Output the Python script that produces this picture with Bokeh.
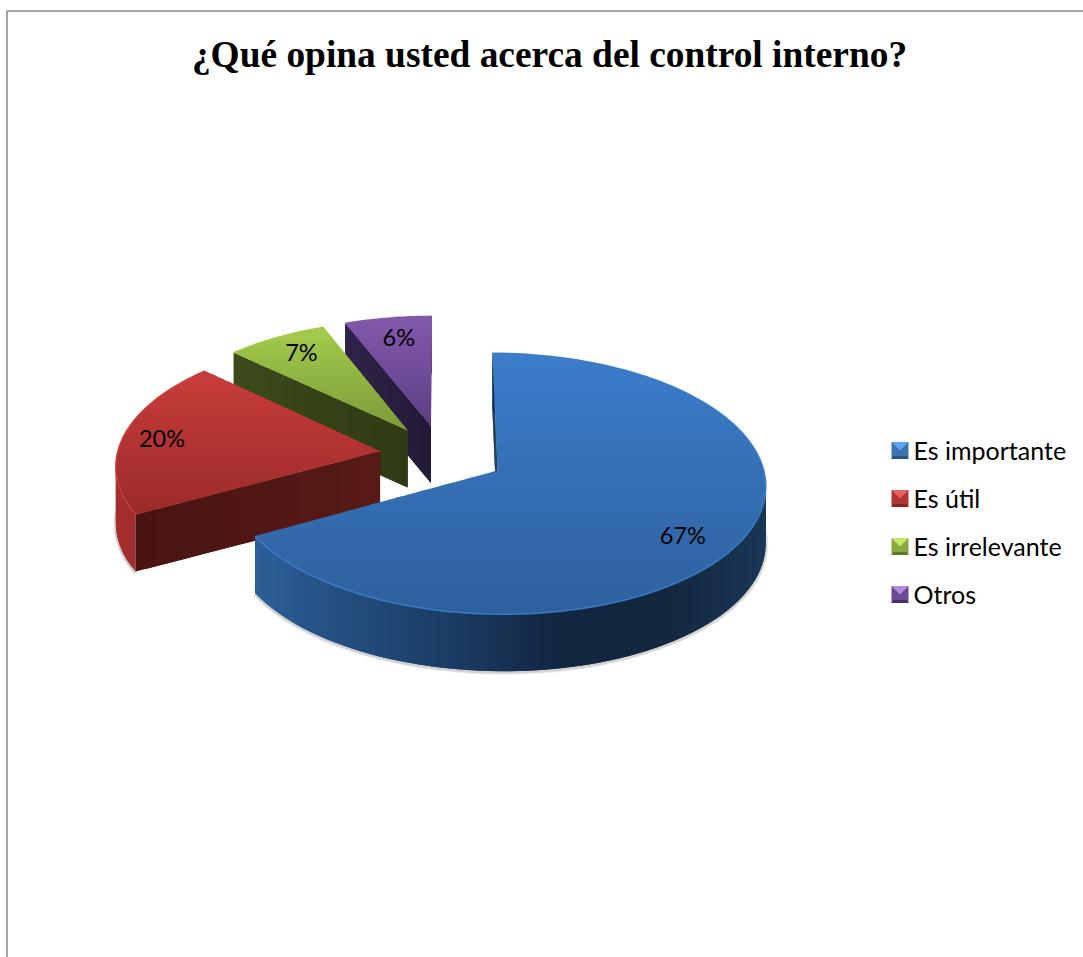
import math
from bokeh.embed import file_html
from bokeh.models import Range1d
from bokeh.plotting import figure
from bokeh.resources import INLINE
from bokeh.core.properties import value

TITLE = "¿Qué opina usted acerca del control interno?"
CATEGORIES = ["Es importante", "Es útil", "Es irrelevante", "Otros"]
SHARES = [67, 20, 7, 6]

# Shading of each slice: top surface (far, near), cut face (left, right), rim stops
TOP_SHADE = [("#3b7dcb", "#2e609d"), ("#c93d3b", "#9a2b2a"), ("#a3cc4b", "#7c9a3a"), ("#8259ab", "#5d3f84")]
CUT_SHADE = [("#16304f", "#16304f"), ("#4a1412", "#581a16"), ("#3c4a1b", "#2e3a14"), ("#30234a", "#231a37")]
RIM_STOPS = [
    ["#2c5f98", "#234c7c", "#1a3a62", "#12263f", "#13273f", "#1a3657"],
    ["#a62f2d", "#9a2b2a", "#7c2321"],
    ["#5f7a2a", "#5f7a2a"],
    ["#4a3270", "#4a3270"],
]
LEGEND_SHADE = [("#62a4ea", "#3b73b0", "#2a5386"), ("#e8625f", "#b23432", "#7f2523"),
                ("#c6e866", "#8aa83f", "#617a2a"), ("#b48ade", "#6a4a94", "#46305f")]
LABEL_RADIUS = [0.808, 0.85, 0.827, 0.814]
LABEL_TURN = [5.6, 0, 1.3, 1]

# Projection of the pie's ground plane onto the page
CX, CY = 442.0, 454.5
SCALE_X, SCALE_Y = 263.0, 126.0
PERSPECTIVE = 0.10
EXPLODE = 0.24
DEPTH = 57.0


def project(gx, gz):
    d = 1 + PERSPECTIVE * gz
    return CX + SCALE_X * gx / d, CY - SCALE_Y * gz / d


def rgb(h):
    return tuple(int(h[i:i + 2], 16) for i in (1, 3, 5))


def mix(a, b, t):
    ca, cb = rgb(a), rgb(b)
    return "#%02x%02x%02x" % tuple(round(ca[i] + (cb[i] - ca[i]) * t) for i in range(3))


def ramp(stops, t):
    t = min(max(t, 0.0), 1.0) * (len(stops) - 1)
    i = min(int(t), len(stops) - 2)
    return mix(stops[i], stops[i + 1], t - i)


def clip_y(poly, lo, hi):
    """Sutherland-Hodgman clip of a polygon to the band lo <= y <= hi."""
    def clip(points, inside, cross):
        out = []
        for k, cur in enumerate(points):
            prev = points[k - 1]
            if inside(cur):
                if not inside(prev):
                    out.append(cross(prev, cur))
                out.append(cur)
            elif inside(prev):
                out.append(cross(prev, cur))
        return out

    def at(level):
        def cross(a, b):
            t = (level - a[1]) / (b[1] - a[1])
            return (a[0] + t * (b[0] - a[0]), level)
        return cross

    poly = clip(poly, lambda q: q[1] >= lo, at(lo))
    return clip(poly, lambda q: q[1] <= hi, at(hi)) if poly else poly


p = figure(width=1083, height=957, output_backend="svg", toolbar_location=None,
           x_range=Range1d(0, 1083), y_range=Range1d(957, 0), min_border=0)
p.xaxis.visible = False
p.yaxis.visible = False
p.grid.visible = False
p.outline_line_color = None
p.background_fill_color = "white"

# Frame of the chart area: only its left and top sides fall inside the page
p.line([6.5, 6.5, 1083], [957, 10.5, 10.5], line_color="#8c8c8c", line_width=1.6)

p.text([549], [54], text=[TITLE], text_font=value("Liberation Serif"), text_font_style="bold",
       text_font_size="37.4px", text_align="center", text_baseline="middle", text_color="black")

total = sum(SHARES)
edges = [0.0]
for share in SHARES:
    edges.append(edges[-1] + 360.0 * share / total)

label_rows = []
for idx in range(len(SHARES) - 1, -1, -1):
    start, end = edges[idx], edges[idx + 1]
    mid = math.radians((start + end) / 2)
    ox, oz = EXPLODE * math.sin(mid), EXPLODE * math.cos(mid)

    steps = max(24, int(end - start) // 2)
    thetas = [math.radians(start + (end - start) * k / steps) for k in range(steps + 1)]
    arc = [project(ox + math.sin(t), oz + math.cos(t)) for t in thetas]
    apex = project(ox, oz)

    # Soft shadow under the lower edge of the rim
    front = [q for t, q in zip(thetas, arc) if math.cos(t) < 0.25 or idx == 0 and math.sin(t) > 0.2]
    if idx < 2 and front:
        for width, alpha in ((5, 0.10), (3, 0.18)):
            p.line([q[0] for q in front], [q[1] + DEPTH + 1 for q in front],
                   line_color="#555555", line_alpha=alpha, line_width=width)

    # Rim: narrow upright quads, each overlapping the next so no seams show
    x_lo, x_hi = min(q[0] for q in arc), max(q[0] for q in arc)
    rim_x, rim_y, rim_c = [], [], []
    for k in range(steps):
        a, b = arc[k], arc[min(k + 2, steps)]
        rim_x.append([a[0], b[0], b[0], a[0]])
        rim_y.append([a[1], b[1], b[1] + DEPTH, a[1] + DEPTH])
        centre = (arc[k][0] + arc[k + 1][0]) / 2
        rim_c.append(ramp(RIM_STOPS[idx], (centre - x_lo) / max(x_hi - x_lo, 1)))
    p.patches(rim_x, rim_y, fill_color=rim_c, line_color=None)

    # Cut face along the slice's starting radius
    outer = arc[0]
    n = 24
    cut_x, cut_y, cut_c = [], [], []
    for k in range(n):
        t0, t1 = k / n, min((k + 2) / n, 1.0)
        a = (outer[0] + (apex[0] - outer[0]) * t0, outer[1] + (apex[1] - outer[1]) * t0)
        b = (outer[0] + (apex[0] - outer[0]) * t1, outer[1] + (apex[1] - outer[1]) * t1)
        cut_x.append([a[0], b[0], b[0], a[0]])
        cut_y.append([a[1], b[1], b[1] + DEPTH, a[1] + DEPTH])
        cut_c.append(mix(CUT_SHADE[idx][0], CUT_SHADE[idx][1], (k + 0.5) / n))
    p.patches(cut_x, cut_y, fill_color=cut_c, line_color=None)

    # Top surface: horizontal bands running from the far shade to the near shade
    outline = [apex] + arc
    y_lo, y_hi = min(q[1] for q in outline), max(q[1] for q in outline)
    bands = 40
    top_x, top_y, top_c = [], [], []
    for k in range(bands):
        lo = y_lo + (y_hi - y_lo) * k / bands
        hi = y_lo + (y_hi - y_lo) * (k + 1) / bands
        piece = clip_y(outline, lo, hi + 2.0)
        if len(piece) >= 3:
            top_x.append([q[0] for q in piece])
            top_y.append([q[1] for q in piece])
            top_c.append(mix(TOP_SHADE[idx][0], TOP_SHADE[idx][1], (k + 0.5) / bands))
    p.patches(top_x, top_y, fill_color=top_c, line_color=None)

    # Bevel highlight along the outer edge
    p.line([q[0] for q in arc], [q[1] for q in arc], line_color=TOP_SHADE[idx][0],
           line_width=1.6, line_alpha=0.9)

    turn = math.radians((start + end) / 2 + LABEL_TURN[idx])
    lx, ly = project(ox + LABEL_RADIUS[idx] * math.sin(turn), oz + LABEL_RADIUS[idx] * math.cos(turn))
    label_rows.append((lx, ly, f"{SHARES[idx]}%"))

p.text([r[0] for r in label_rows], [r[1] for r in label_rows], text=[r[2] for r in label_rows],
       text_font=value("Lato"), text_font_size="23.5px", text_align="center", text_baseline="middle",
       text_color="black")

# Legend: bevelled swatch plus category name
LEG_X, LEG_Y, LEG_STEP, SW = 891.0, 450.0, 48.0, 17.0
for i, name in enumerate(CATEGORIES):
    y = LEG_Y + LEG_STEP * i
    x0, x1, y0, y1 = LEG_X, LEG_X + SW, y - SW / 2, y + SW / 2
    mx, my = (x0 + x1) / 2, (y0 + y1) / 2
    light, mid_c, dark = LEGEND_SHADE[i]
    p.patches([[x0, x1, x1, x0], [x0, x1, mx], [x0, x1, x1 - 2, x0 + 2]],
              [[y0, y0, y1, y1], [y0, y0, my], [y1, y1, y1 - 3, y1 - 3]],
              fill_color=[mid_c, light, dark], line_color=None)
    p.text([913], [y - 1], text=[name], text_font=value("Lato"), text_font_size="25px",
           text_align="left", text_baseline="middle", text_color="black")

open("out.html", "w").write(file_html(p, INLINE))
